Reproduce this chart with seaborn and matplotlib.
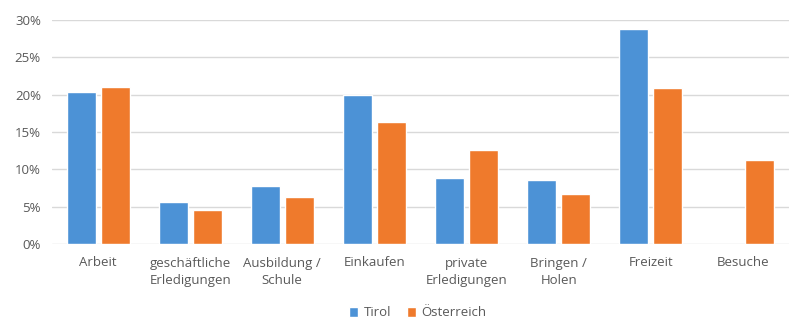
import matplotlib
matplotlib.use("Agg")
import matplotlib.pyplot as plt
import seaborn as sns
import pandas as pd
from matplotlib.ticker import PercentFormatter

categories = ["Arbeit", "geschäftliche\nErledigungen", "Ausbildung /\nSchule", "Einkaufen",
              "private\nErledigungen", "Bringen /\nHolen", "Freizeit", "Besuche"]
tirol = [0.204, 0.056, 0.078, 0.199, 0.088, 0.086, 0.288, 0.0]
oesterreich = [0.210, 0.045, 0.063, 0.163, 0.126, 0.067, 0.209, 0.112]
series = ["Tirol", "Österreich"]
colors = ["#4C92D6", "#EF7A2C"]
yticks = [0, 0.05, 0.10, 0.15, 0.20, 0.25, 0.30]

df = pd.DataFrame({
    "Kategorie": categories * 2,
    "Wert": tirol + oesterreich,
    "Region": [series[0]] * len(categories) + [series[1]] * len(categories),
})

sns.set_theme(style="white")
plt.rcParams["font.family"] = ["Open Sans", "DejaVu Sans"]

fig = plt.figure(figsize=(7.89, 3.23), dpi=100)
ax = fig.add_axes([52 / 789, 1 - 244 / 323, (789 - 52) / 789, (244 - 20) / 323])

sns.barplot(data=df, x="Kategorie", y="Wert", hue="Region", palette=colors,
            width=0.74, gap=0.15, ax=ax, legend=True, saturation=1)

ax.set_ylim(0, 0.30)
ax.set_xlim(-0.5, len(categories) - 0.5)
ax.set_yticks(yticks)
ax.yaxis.set_major_formatter(PercentFormatter(1.0, decimals=0))
ax.grid(axis="y", color="#D9D9D9", linewidth=1)
ax.set_axisbelow(True)
for s in ax.spines.values():
    s.set_visible(False)
ax.set_xlabel("")
ax.set_ylabel("")
ax.tick_params(axis="both", length=0, labelsize=9.5, colors="#595959")
ax.tick_params(axis="x", pad=9)
ax.tick_params(axis="y", pad=8)
for lbl in ax.get_xticklabels():
    lbl.set_linespacing(1.45)

leg = ax.legend(loc="center", bbox_to_anchor=(418 / 789, 1 - 313 / 323), bbox_transform=fig.transFigure,
                ncol=2, frameon=False, fontsize=9.5, handlelength=0.7, handleheight=0.7,
                columnspacing=1.2, handletextpad=0.4)
for t in leg.get_texts():
    t.set_color("#595959")

fig.savefig("out.png", dpi=100)
